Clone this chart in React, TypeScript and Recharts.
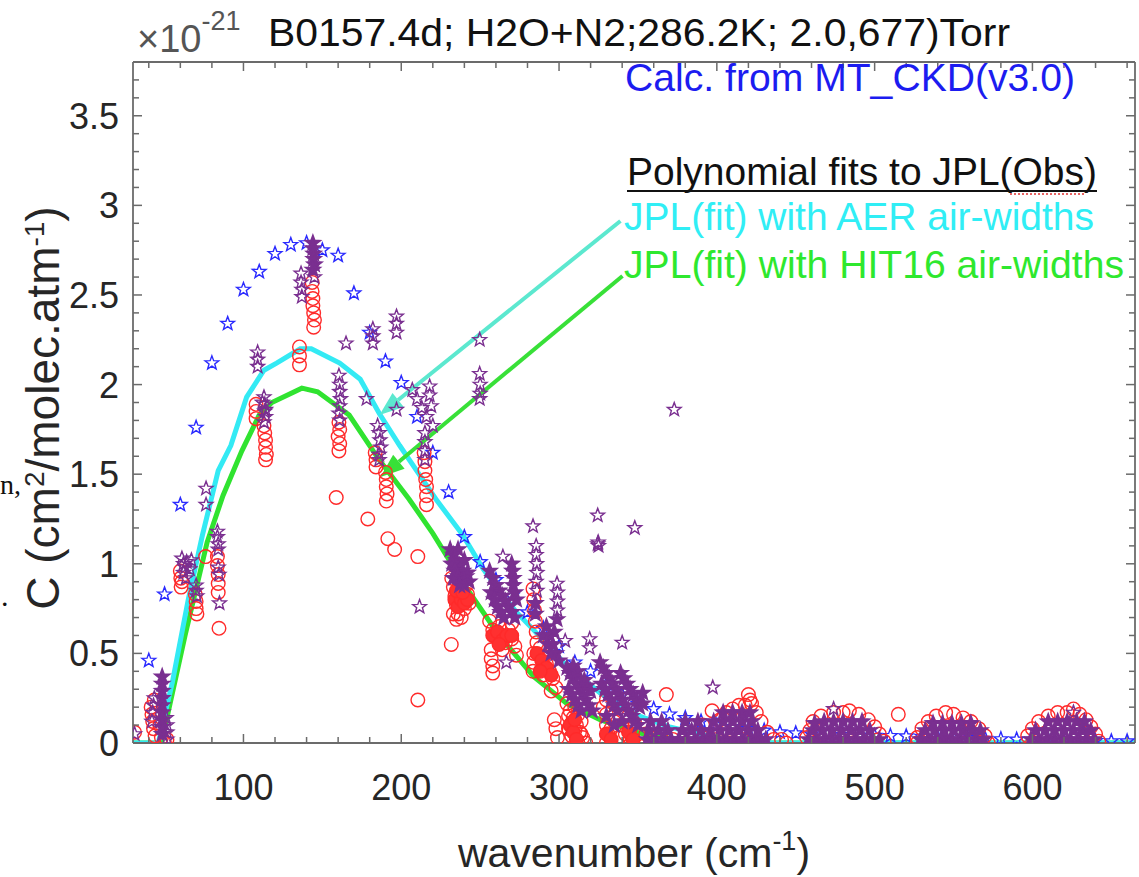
import React from "react";
import { ComposedChart, Scatter, Line, XAxis, YAxis, ReferenceLine } from "recharts";

type Pt = [number, number];

const FONT = "'Liberation Sans', Arial, sans-serif";
const AXIS = "#6b6b6b";
const PURPLE = "#7a2f90";
const RED = "#ff2a2a";

// axis ticks
const xMajorTicks = [100, 200, 300, 400, 500, 600];
const xAllTicks = Array.from({ length: 32 }, (_, i) => 40 + i * 20);
const yMajorTicks = [0, 0.5, 1, 1.5, 2, 2.5, 3, 3.5];
const yAllTicks = Array.from({ length: 39 }, (_, i) => i / 10);

// MT_CKD(v3.0) calc, every 10 cm-1 (x1e-21)
const ckdWavenumber = [
  40, 50, 60, 70, 80, 90, 100, 110, 120, 130, 140, 150, 160, 170, 180, 190, 200, 210, 220, 230,
  240, 250, 260, 270, 280, 290, 300, 310, 320, 330, 340, 350, 360, 370, 380, 390, 400, 410, 420,
  430, 440, 450, 460, 470, 480, 490, 500, 510, 520, 530, 540, 550, 560, 570, 580, 590, 600, 610,
  620, 630, 640, 650, 660,
];
const ckdValue = [
  0.46, 0.83, 1.33, 1.76, 2.12, 2.34, 2.53, 2.63, 2.73, 2.78, 2.79, 2.75, 2.72, 2.51, 2.29, 2.13,
  2.01, 1.82, 1.62, 1.4, 1.15, 1.01, 0.91, 0.82, 0.73, 0.64, 0.54, 0.45, 0.4, 0.33, 0.27, 0.22,
  0.19, 0.16, 0.14, 0.12, 0.1, 0.09, 0.08, 0.07, 0.06, 0.055, 0.05, 0.048, 0.045, 0.043, 0.041,
  0.04, 0.038, 0.036, 0.033, 0.03, 0.028, 0.025, 0.022, 0.02, 0.02, 0.018, 0.016, 0.014, 0.012,
  0.01, 0.01,
];

// polynomial fits to JPL(Obs)
const fitAer: Pt[] = [
  [30, 0], [46, 0], [55, 0.34], [65, 0.8], [74, 1.16], [84, 1.52], [92, 1.66], [102, 1.93],
  [113, 2.08], [121, 2.12], [136, 2.2], [143, 2.2], [161, 2.12], [174, 2.03], [186, 1.84],
  [199, 1.66], [212, 1.49], [222, 1.36], [239, 1.16], [252, 0.97], [262, 0.85], [273, 0.73],
  [284, 0.63], [305, 0.43], [326, 0.28], [351, 0.15], [370, 0.09], [389, 0.05], [405, 0.02],
  [421, 0], [665, 0],
];
const fitHit16: Pt[] = [
  [30, 0], [48, 0], [63, 0.6], [77, 1.12], [87, 1.38], [99, 1.63], [110, 1.83], [118, 1.9],
  [137, 1.98], [147, 1.96], [167, 1.83], [186, 1.58], [199, 1.43], [205, 1.36], [220, 1.17],
  [241, 0.87], [262, 0.6], [284, 0.37], [305, 0.22], [326, 0.13], [351, 0.055], [375, 0.02],
  [400, 0.005], [412, 0], [665, 0],
];

// JPL obs, red circles
const redLow: Pt[] = [
  [31, 0.06], [41.5, 0.2], [42, 0.16], [42.5, 0.12], [43, 0.08], [43.5, 0.24], [44, 0.04], [47, 0.1],
  [48, 0.03], [50, 0], [51.5, 0.02], [60, 0.96], [60.3, 0.92], [60.5, 0.87], [61, 0.9], [69.5, 0.83],
  [70, 0.79], [70, 0.75], [70.5, 0.72], [76, 1.04], [83.5, 1.04], [83.5, 0.99], [84, 0.94],
  [84, 0.89], [84, 0.84], [84.5, 0.64],
];
const redPeak: Pt[] = [
  [108, 1.89], [108, 1.85], [108, 1.81], [113, 1.77], [113.5, 1.73], [114, 1.69], [114, 1.65],
  [114.5, 1.61], [114, 1.58], [143.5, 2.57], [143.5, 2.52], [144, 2.48], [144, 2.44], [144.5, 2.4],
  [145, 2.36], [144.5, 2.32], [135.5, 2.21], [135.5, 2.16], [135.5, 2.11], [160.5, 1.79],
  [161, 1.75], [160, 1.71], [161, 1.67], [160.5, 1.63], [158.8, 1.37], [183.5, 1.62], [184, 1.58],
  [184, 1.54], [190, 1.51], [190.5, 1.47], [190.5, 1.43], [191, 1.39], [190.5, 1.35], [178.8, 1.25],
  [191.5, 1.14], [195.8, 1.08], [214.5, 1.62], [215, 1.57], [215, 1.52], [215.5, 1.47], [216, 1.43],
  [216, 1.38], [216, 1.33], [210.5, 1.04], [210.5, 0.24],
];
const redTail: Pt[] = [
  [231.7, 0.55], [232, 0.92], [233, 0.87], [234, 0.82], [235, 0.77], [236, 0.72], [237, 0.9],
  [238, 0.85], [239, 0.8], [240, 0.75], [241, 0.88], [242, 0.83], [243, 0.78], [233, 0.72],
  [235, 0.69], [238, 0.7], [256, 0.68], [258, 0.63], [260, 0.59], [262, 0.65], [264, 0.6],
  [266, 0.56], [268, 0.63], [270, 0.58], [272, 0.54], [257, 0.52], [257, 0.47], [258, 0.43],
  [258, 0.39], [264, 0.52], [270, 0.67], [273, 0.49], [283.5, 0.86], [284, 0.8], [284.5, 0.74],
  [285, 0.68], [285.5, 0.62], [286, 0.56], [284, 0.5], [284, 0.45], [283.5, 0.4], [288, 0.53],
  [290, 0.48], [292, 0.44], [294, 0.4], [296, 0.36], [298, 0.31], [290, 0.38], [295, 0.29],
  [297, 0.13], [298, 0.08], [299, 0.03], [305, 0.22], [307, 0.18], [309, 0.14], [311, 0.1],
  [313, 0.06], [315, 0.03], [317, 0], [306, 0.08], [308, 0.04], [310, 0.2], [312, 0.16], [314, 0.12],
  [308, 0.11], [312, 0], [306, 0.15], [310, 0.07], [314, 0.05], [328, 0.2], [330, 0.24], [330, 0.16],
  [330, 0.1], [331, 0.05], [330, 0], [335, 0.12], [340, 0.1], [344, 0.15], [345, 0.08], [345, 0.02],
  [348, 0.11], [350, 0.05], [338, 0.03], [333, 0.08], [342, 0.05],
];
const redHumps: Pt[] = [
  [355, 0.05], [358, 0], [362, 0.03], [366, 0], [368, 0.27], [372, 0.02], [380, 0], [386, 0.04],
  [391, 0.1], [392, 0], [397, 0.18], [398, 0.06], [402, 0.13], [406, 0.17], [410, 0.19], [414, 0.21],
  [418, 0.21], [420, 0.27], [421, 0.24], [422, 0.22], [425, 0.17], [428, 0.12], [432, 0.06],
  [436, 0.02], [441, 0.02], [444, 0], [400, 0.02], [408, 0], [416, 0.02], [424, 0],
  [457, 0.03], [459, 0.07], [461, 0.12], [466, 0.15], [474, 0.17], [480, 0.17], [484, 0.18],
  [490, 0.16], [496, 0.13], [500, 0.09], [503, 0.05], [506, 0.01], [462, 0], [470, 0], [478, 0],
  [486, 0], [494, 0], [515, 0.16],
  [527, 0.03], [530, 0.08], [534, 0.12], [539, 0.15], [545, 0.17], [550, 0.16], [556, 0.14],
  [561, 0.12], [566, 0.08], [570, 0.04], [572, 0], [527, 0], [536, 0], [546, 0], [556, 0], [564, 0],
  [597, 0.04], [600, 0.08], [604, 0.12], [610, 0.15], [616, 0.17], [622, 0.17], [626, 0.19],
  [630, 0.16], [634, 0.13], [637, 0.09], [640, 0.05], [642, 0.01], [600, 0], [610, 0], [620, 0],
  [630, 0],
];
// JPL obs, red circles piled up into solid groups
const redDense: Pt[] = [
  [234, 0.8], [236, 0.76], [238, 0.8], [240, 0.78], [242, 0.8], [235, 0.85], [239, 0.84],
  [258, 0.6], [261, 0.62], [264, 0.57], [267, 0.6], [270, 0.6], [262, 0.55],
  [286, 0.5], [289, 0.46], [292, 0.42], [295, 0.38], [288, 0.4],
  [307, 0.1], [309, 0.06], [311, 0.02], [310, 0.13],
  [330, 0.05], [333, 0.02], [344, 0.06], [347, 0.02],
];

// JPL obs, purple stars (scattered)
const purpleLow: Pt[] = [
  [31, 0.05], [42, 0.12], [42.5, 0.17], [43, 0.21], [43.5, 0.25], [51, 0.14], [51.5, 0.1],
  [51.5, 0.06], [51.5, 0.02], [61, 1.03], [62, 1], [63, 0.98], [64, 1.01], [66, 0.97], [67, 1.02],
  [62, 0.95], [63.5, 0.92], [70, 0.88], [70, 0.85], [70.5, 0.82], [76.3, 1.42], [76.3, 1.33],
  [83.5, 1.18], [83.5, 1.15], [84, 1.11], [84, 1.08], [84, 0.98], [84.5, 0.94], [84.8, 0.78],
];
const purplePeak: Pt[] = [
  [109, 2.18], [109, 2.14], [109, 2.1], [112, 1.9], [113, 1.93], [113.5, 1.89], [113.5, 1.85],
  [114, 1.82], [113, 1.79], [114, 1.86], [145, 2.6], [136.5, 2.62], [136.5, 2.57], [137, 2.53],
  [137, 2.49], [160.5, 2.05], [161, 2], [161, 1.96], [161.5, 1.92], [161, 1.88], [160.5, 1.84],
  [161, 1.8], [165, 2.23], [178, 1.92], [182, 2.31], [182, 2.27], [182, 2.23], [185, 1.77],
  [186, 1.73], [186.5, 1.69], [187, 1.65], [186, 1.61], [186, 1.58], [197, 2.38], [197, 2.34],
  [197, 2.29], [197, 1.86], [207, 1.97], [210, 1.92], [213, 1.87], [216, 1.82], [218, 1.99],
  [218, 1.94], [219, 1.88], [215, 1.73], [215, 1.68], [215, 1.63], [215, 1.58], [220, 1.77],
  [211.6, 0.76], [249.7, 2.25], [249.7, 2.06], [250, 2], [250, 1.95], [249.7, 1.92],
];
const purpleTail: Pt[] = [
  [264.4, 1.04], [266.6, 0.45], [283.5, 1.21], [285.5, 1.1], [285.5, 1.05], [285.8, 1], [286, 0.95],
  [285.5, 0.9], [286, 0.85], [298.7, 0.89], [299, 0.84], [299, 0.79], [299, 0.74], [303.9, 0.57],
  [319.4, 0.58], [319.4, 0.53], [324.5, 1.27], [324.5, 1.11], [324.8, 1.12], [325, 1.1], [348, 1.2],
  [373, 1.86], [340, 0.56], [397.4, 0.31], [474, 0.19], [626, 0.17],
];

// JPL obs, purple stars (dense overlapping groups)
const purpleDense: Pt[] = [
  [48.5, 0.37], [48.5, 0.33], [48.5, 0.29], [48.5, 0.25], [48.5, 0.21], [48.5, 0.17], [48.5, 0.13],
  [48.5, 0.09], [48.5, 0.05], [144, 2.79], [144, 2.76], [144.5, 2.73], [144.5, 2.7], [145, 2.67],
  [144, 2.64],
  [231, 1.08], [233, 1.05], [235, 1.02], [237, 0.99], [239, 0.96], [241, 0.93], [243, 0.9],
  [232, 1], [234, 0.96], [236, 0.93], [238, 0.9], [240, 0.88], [242, 0.95], [236, 1.08], [240, 1.02],
  [233, 0.92], [237, 0.88], [256, 0.96], [258, 0.92], [260, 0.88], [262, 0.85], [264, 0.82],
  [266, 0.79], [268, 0.76], [270, 0.73], [272, 0.7], [257, 0.84], [259, 0.8], [261, 0.76],
  [263, 0.73], [265, 0.7], [270, 1], [270.5, 0.96], [271, 0.92], [271, 0.88], [272, 0.84],
  [273, 0.8], [285, 0.78], [285, 0.72], [298.7, 0.69], [292, 0.65], [294, 0.6], [296, 0.55],
  [298, 0.5], [300, 0.46], [293, 0.55], [295, 0.5], [297, 0.62], [290, 0.6],
  [305, 0.42], [307, 0.39], [309, 0.36], [311, 0.33], [313, 0.3], [315, 0.27], [317, 0.24],
  [319, 0.21], [321, 0.18], [306, 0.3], [308, 0.27], [310, 0.24], [312, 0.21], [314, 0.18],
  [316, 0.35], [318, 0.32], [320, 0.29], [309, 0.43], [312, 0.4],
  [326, 0.45], [328, 0.42], [330, 0.39], [332, 0.36], [334, 0.33], [336, 0.3], [338, 0.27],
  [340, 0.24], [342, 0.21], [344, 0.18], [346, 0.15], [348, 0.12], [350, 0.1], [327, 0.33],
  [329, 0.3], [331, 0.27], [333, 0.24], [335, 0.21], [337, 0.18], [339, 0.39], [341, 0.36],
  [343, 0.33], [345, 0.3], [347, 0.27], [349, 0.24], [351, 0.2], [353, 0.28], [353, 0.22],
  [330, 0.15], [335, 0.1], [340, 0.12],
  [356, 0.02], [361, 0.02], [366, 0.02], [371, 0.02], [376, 0.02], [381, 0.02], [386, 0.02],
  [391, 0.02], [396, 0.02], [401, 0.02], [406, 0.02], [411, 0.02], [416, 0.02], [421, 0.02],
  [426, 0.02], [431, 0.02], [357, 0.07], [363, 0.07], [369, 0.07], [378, 0.07], [384, 0.07],
  [390, 0.07], [396, 0.07], [402, 0.07], [408, 0.07], [414, 0.07], [420, 0.07], [426, 0.07],
  [358, 0.12], [365, 0.12], [380, 0.12], [388, 0.12], [398, 0.12], [404, 0.12], [410, 0.12],
  [416, 0.12], [422, 0.12], [404, 0.17], [410, 0.17], [416, 0.17], [421, 0.17],
  [458, 0.02], [463, 0.02], [468, 0.02], [473, 0.02], [478, 0.02], [483, 0.02], [488, 0.02],
  [493, 0.02], [498, 0.02], [503, 0.02], [461, 0.07], [467, 0.07], [473, 0.07], [479, 0.07],
  [485, 0.07], [491, 0.07], [497, 0.07], [468, 0.12], [474, 0.12], [480, 0.12], [486, 0.12],
  [492, 0.12], [462, 0.11],
  [529, 0.02], [534, 0.02], [539, 0.02], [544, 0.02], [549, 0.02], [554, 0.02], [559, 0.02],
  [564, 0.02], [569, 0.02], [532, 0.07], [538, 0.07], [544, 0.07], [550, 0.07], [556, 0.07],
  [562, 0.07], [567, 0.07], [537, 0.11], [543, 0.11], [549, 0.11], [555, 0.11], [561, 0.11],
  [599, 0.02], [604, 0.02], [609, 0.02], [614, 0.02], [619, 0.02], [624, 0.02], [629, 0.02],
  [634, 0.02], [639, 0.02], [602, 0.07], [608, 0.07], [614, 0.07], [620, 0.07], [626, 0.07],
  [632, 0.07], [637, 0.07], [610, 0.12], [616, 0.12], [622, 0.12], [628, 0.12], [633, 0.12],
];

const toXY = (pts: Pt[]) => pts.map(([x, y]) => ({ x, y }));
const ckdPoints = ckdWavenumber.map((x, i) => ({ x, y: ckdValue[i] }));
const redPoints = toXY([...redLow, ...redPeak, ...redTail, ...redHumps]);
const redDensePoints = toXY(redDense);
const purplePoints = toXY([...purpleLow, ...purplePeak, ...purpleTail]);
const purpleDensePoints = toXY(purpleDense);

const starPath = (cx: number, cy: number, R: number, r: number) => {
  let d = "";
  for (let i = 0; i < 10; i++) {
    const rad = i % 2 === 0 ? R : r;
    const a = -Math.PI / 2 + (i * Math.PI) / 5;
    d += (i ? "L" : "M") + (cx + rad * Math.cos(a)).toFixed(2) + "," + (cy + rad * Math.sin(a)).toFixed(2);
  }
  return d + "Z";
};

const star = (color: string, fill = "none", sw = 1.4) => (p: any) =>
  p.cx == null ? <g /> : <path d={starPath(p.cx, p.cy, 7.2, 3)} fill={fill} stroke={color} strokeWidth={sw} />;

const ring = (fill: string) => (p: any) =>
  p.cx == null ? <g /> : <circle cx={p.cx} cy={p.cy} r={6.8} fill={fill} stroke={RED} strokeWidth={1.4} />;

const arrow = (color: string) => (p: any) => {
  const { x1, y1, x2, y2 } = p;
  if (x1 == null) return <g />;
  const ang = Math.atan2(y2 - y1, x2 - x1);
  const L = 24, hw = 9;
  const bx = x2 - L * Math.cos(ang), by = y2 - L * Math.sin(ang);
  const nx = -Math.sin(ang) * hw, ny = Math.cos(ang) * hw;
  return (
    <g>
      <line x1={x1} y1={y1} x2={bx} y2={by} stroke={color} strokeWidth={4} />
      <polygon points={`${x2},${y2} ${bx + nx},${by + ny} ${bx - nx},${by - ny}`} fill={color} />
    </g>
  );
};

const BottomTick = (p: any) => {
  const v = p.payload.value;
  const major = xMajorTicks.includes(v);
  return (
    <g>
      <line x1={p.x} x2={p.x} y1={p.y} y2={p.y - (major ? 9 : 6)} stroke={AXIS} strokeWidth={1.5} />
      {major && (
        <text x={p.x} y={p.y + 57} textAnchor="middle" fontSize={36} fill="#262626" fontFamily={FONT}>
          {v}
        </text>
      )}
    </g>
  );
};
const TopTick = (p: any) => {
  const major = xMajorTicks.includes(p.payload.value);
  return <line x1={p.x} x2={p.x} y1={p.y} y2={p.y + (major ? 9 : 6)} stroke={AXIS} strokeWidth={1.5} />;
};
const LeftTick = (p: any) => {
  const v = p.payload.value;
  const major = yMajorTicks.includes(v);
  return (
    <g>
      <line x1={p.x} x2={p.x + (major ? 9 : 6)} y1={p.y} y2={p.y} stroke={AXIS} strokeWidth={1.5} />
      {major && (
        <text x={p.x - 14} y={p.y + 13} textAnchor="end" fontSize={36} fill="#262626" fontFamily={FONT}>
          {String(v)}
        </text>
      )}
    </g>
  );
};
const RightTick = (p: any) => {
  const major = yMajorTicks.includes(p.payload.value);
  return <line x1={p.x} x2={p.x - (major ? 9 : 6)} y1={p.y} y2={p.y} stroke={AXIS} strokeWidth={1.5} />;
};

const axisLine = { stroke: AXIS, strokeWidth: 1.8 };

export default function App() {
  return (
    <div style={{ position: "absolute", left: 0, top: 0, width: 1139, height: 877, background: "#fff", overflow: "hidden" }}>
      <ComposedChart width={1139} height={877} margin={{ top: 61, right: 3, bottom: 0, left: 0 }}>
        <XAxis xAxisId="b" type="number" dataKey="x" domain={[30, 665]} ticks={xAllTicks} interval={0}
          height={134} tickSize={0} tickMargin={0} tickLine={false} tick={BottomTick} axisLine={axisLine} allowDataOverflow />
        <XAxis xAxisId="t" orientation="top" type="number" dataKey="x" domain={[30, 665]} ticks={xAllTicks} interval={0}
          height={1} tickSize={0} tickMargin={0} tickLine={false} tick={TopTick} axisLine={axisLine} allowDataOverflow />
        <YAxis yAxisId="l" type="number" dataKey="y" domain={[0, 3.8]} ticks={yAllTicks} interval={0}
          width={133} tickSize={0} tickMargin={0} tickLine={false} tick={LeftTick} axisLine={axisLine} allowDataOverflow />
        <YAxis yAxisId="r" orientation="right" type="number" dataKey="y" domain={[0, 3.8]} ticks={yAllTicks} interval={0}
          width={1} tickSize={0} tickMargin={0} tickLine={false} tick={RightTick} axisLine={axisLine} allowDataOverflow />

        <Scatter xAxisId="b" yAxisId="l" data={ckdPoints} dataKey="y" shape={star("#2a2aff")} isAnimationActive={false} />
        <Scatter xAxisId="b" yAxisId="l" data={redPoints} dataKey="y" shape={ring("none")} isAnimationActive={false} />
        <Scatter xAxisId="b" yAxisId="l" data={redDensePoints} dataKey="y" shape={ring("#ff3030")} isAnimationActive={false} />
        <Scatter xAxisId="b" yAxisId="l" data={purpleDensePoints} dataKey="y" shape={star(PURPLE, PURPLE, 2)} isAnimationActive={false} />
        <Scatter xAxisId="b" yAxisId="l" data={purplePoints} dataKey="y" shape={star(PURPLE)} isAnimationActive={false} />

        <Line xAxisId="b" yAxisId="l" data={toXY(fitHit16)} dataKey="y" type="linear" stroke="#30e330" strokeWidth={5}
          dot={false} activeDot={false} isAnimationActive={false} />
        <Line xAxisId="b" yAxisId="l" data={toXY(fitAer)} dataKey="y" type="linear" stroke="#33eaf4" strokeWidth={5}
          dot={false} activeDot={false} isAnimationActive={false} />

        <ReferenceLine xAxisId="b" yAxisId="l" segment={[{ x: 338.9, y: 2.913 }, { x: 186.2, y: 1.83 }]}
          shape={arrow("#5ce8cf")} ifOverflow="visible" />
        <ReferenceLine xAxisId="b" yAxisId="l" segment={[{ x: 340.2, y: 2.606 }, { x: 186.8, y: 1.484 }]}
          shape={arrow("#38e038")} ifOverflow="visible" />
      </ComposedChart>

      <svg width={1139} height={877} style={{ position: "absolute", left: 0, top: 0, pointerEvents: "none" }} fontFamily={FONT}>
        <text x={137} y={52} fontSize={38} fill="#555">
          ×10<tspan dy={-22} fontSize={27}>-21</tspan>
        </text>
        <text x={268} y={46} fontSize={39} fill="#111" textLength={742} lengthAdjust="spacingAndGlyphs">
          B0157.4d; H2O+N2;286.2K; 2.0,677)Torr
        </text>

        <text x={625} y={91} fontSize={39} fill="#1c1cf0" textLength={450} lengthAdjust="spacingAndGlyphs">
          Calc. from MT_CKD(v3.0)
        </text>
        <text x={627} y={185} fontSize={39} fill="#111" textLength={470} lengthAdjust="spacingAndGlyphs">
          Polynomial fits to JPL(Obs)
        </text>
        <line x1={627} x2={1097} y1={191} y2={191} stroke="#111" strokeWidth={2} />
        <line x1={1010} x2={1085} y1={194} y2={194} stroke="#e03030" strokeWidth={1.5} strokeDasharray="2 2" />
        <text x={624} y={230} fontSize={39} fill="#30eef5" textLength={470} lengthAdjust="spacingAndGlyphs">
          JPL(fit) with AER air-widths
        </text>
        <text x={624} y={278} fontSize={39} fill="#2ee82e" textLength={500} lengthAdjust="spacingAndGlyphs">
          JPL(fit) with HIT16 air-widths
        </text>

        <text x={634} y={867} fontSize={41} fill="#262626" textAnchor="middle">
          wavenumber (cm<tspan dy={-17} fontSize={27}>-1</tspan><tspan dy={17}>)</tspan>
        </text>
        <text x={59} y={408} fontSize={46} fill="#262626" textAnchor="middle" transform="rotate(-90 59 408)">
          C (cm<tspan dy={-15} fontSize={28}>2</tspan><tspan dy={15}>/molec.atm</tspan>
          <tspan dy={-15} fontSize={28}>-1</tspan><tspan dy={15}>)</tspan>
        </text>

        <text x={0} y={494} fontSize={28} fill="#111" fontFamily="'Liberation Serif', serif">n,</text>
        <text x={1} y={606} fontSize={30} fill="#111" fontFamily="'Liberation Serif', serif">.</text>
      </svg>
    </div>
  );
}
